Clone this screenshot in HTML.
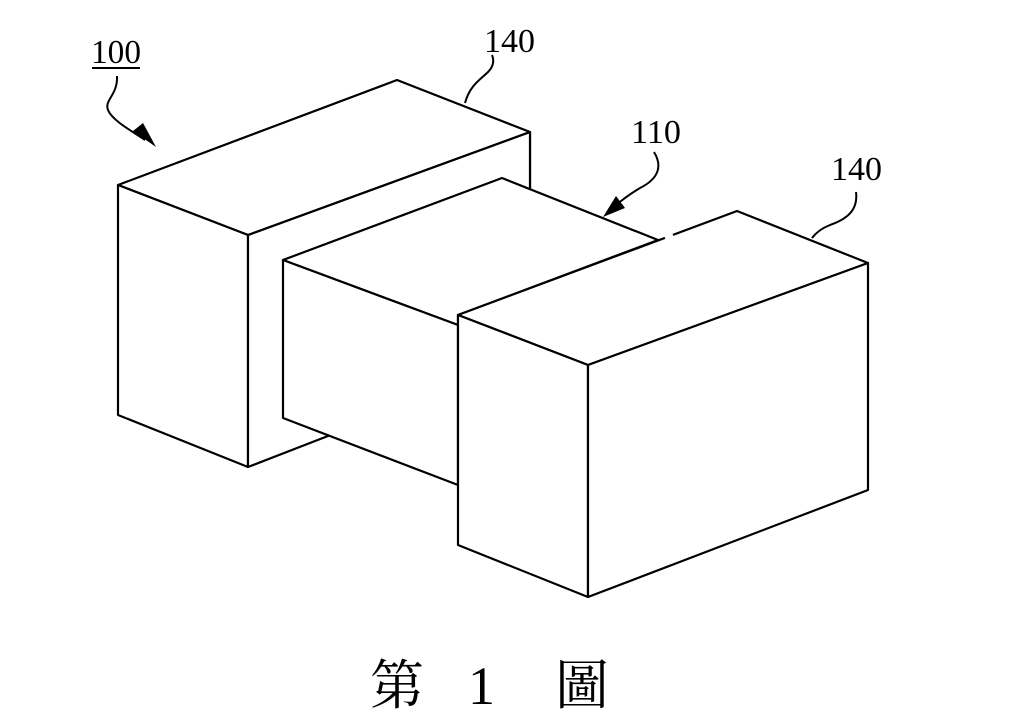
<!DOCTYPE html>
<html><head><meta charset="utf-8"><style>
html,body{margin:0;padding:0;background:#fff;width:1024px;height:713px;overflow:hidden}
text{font-family:"Liberation Serif","Noto Serif CJK SC",serif;fill:#000}
</style></head><body>
<svg width="1024" height="713" viewBox="0 0 1024 713" xmlns="http://www.w3.org/2000/svg">
<g fill="#fff" stroke="#000" stroke-width="2.2" stroke-linejoin="round">
<polygon points="118,185 397,80 530,132 530,188 248,235 248,235"/>
<polygon points="118,185 248,235 248,467 118,415"/>
<polygon points="248,235 530,132 530,260 328,436 248,467"/>
<polygon points="283,260 502,178 658,240 458,315 458,325"/>
<polygon points="283,260 458,325 458,485 283,418"/>
<polygon points="458,315 737,211 868,263 588,365"/>
<polygon points="458,315 588,365 588,597 458,545"/>
<polygon points="588,365 868,263 868,490 588,597"/>
</g>
<g fill="none" stroke="#000" stroke-width="2">
<line x1="248" y1="235" x2="530" y2="132"/>
<path d="M117,76 C118,95 104,100 108,110 C112,120 130,130 145,140"/>
<path d="M465,103 C470,85 480,80 488,72 C494,66 494,60 492,55"/>
<path d="M654,152 C662,165 660,178 640,188 C630,194 622,200 615,206"/>
<path d="M856,192 C858,208 850,218 830,225 C820,229 815,234 812,238"/>
</g>
<line x1="665" y1="238" x2="673" y2="235" stroke="#fff" stroke-width="3"/>
<polygon points="156,147 133,131 143,123" fill="#000"/>
<polygon points="603,217 616,196 625,208" fill="#000"/>
<text x="91" y="63" font-size="34" textLength="50" lengthAdjust="spacingAndGlyphs">100</text>
<line x1="92" y1="68" x2="140" y2="68" stroke="#000" stroke-width="2"/>
<text x="484" y="52" font-size="34" textLength="51" lengthAdjust="spacingAndGlyphs">140</text>
<text x="631" y="143" font-size="34" textLength="50" lengthAdjust="spacingAndGlyphs">110</text>
<text x="831" y="180" font-size="34" textLength="51" lengthAdjust="spacingAndGlyphs">140</text>
<text x="370" y="704" font-size="54">第</text>
<text x="468" y="704" font-size="54">1</text>
<text x="555" y="704" font-size="54">圖</text>
</svg>
</body></html>
